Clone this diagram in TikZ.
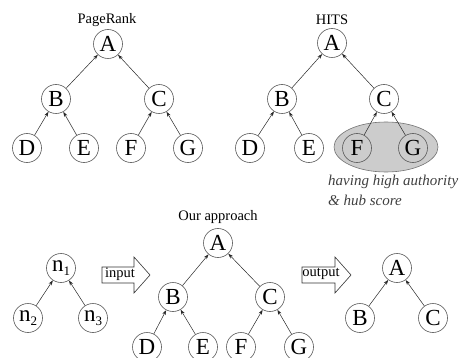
\documentclass[tikz,border=0pt]{standalone}
\usepackage{fontspec}
\setmainfont{Liberation Serif}
\usetikzlibrary{arrows.meta,shapes.geometric}
\begin{document}
\begin{tikzpicture}[x=1pt,y=-1pt,
  vtx/.style={circle,draw=black!65,line width=0.6pt,minimum size=29pt,inner sep=0pt,font=\fontsize{23}{23}\selectfont},
  lbl/.style={font=\fontsize{14.5}{14.5}\selectfont,inner sep=0pt},
  edge/.style={draw=black!85,line width=0.5pt,-{Stealth[length=5pt,width=3.5pt]}},
  bigarrow/.style={draw=black!80,line width=0.6pt,fill=white}
]
\useasboundingbox (0,0) rectangle (460,358);

% ---------- PageRank ----------
\node[lbl] (prl) at (107,20) {PageRank};
\node[vtx] (pA) at (108,44) {A};
\node[vtx] (pB) at (56,99) {B};
\node[vtx] (pC) at (159,99) {C};
\node[vtx] (pD) at (27,148) {D};
\node[vtx] (pE) at (84,148) {E};
\node[vtx] (pF) at (131,148) {F};
\node[vtx] (pG) at (188,148) {G};
\draw[edge] (pB) -- (pA);
\draw[edge] (pC) -- (pA);
\draw[edge] (pD) -- (pB);
\draw[edge] (pE) -- (pB);
\draw[edge] (pF) -- (pC);
\draw[edge] (pG) -- (pC);

% ---------- HITS ----------
\node[ellipse,draw=black!55,fill=black!20,line width=0.6pt,minimum width=104pt,minimum height=50pt,inner sep=0pt] (hell) at (386,147) {};
\node[lbl] (hl) at (332,20) {HITS};
\node[vtx] (hA) at (332,43) {A};
\node[vtx] (hB) at (282,99) {B};
\node[vtx] (hC) at (384,99) {C};
\node[vtx] (hD) at (250,148) {D};
\node[vtx] (hE) at (309,148) {E};
\node[vtx] (hF) at (357,148) {F};
\node[vtx] (hG) at (413,148) {G};
\draw[edge] (hB) -- (hA);
\draw[edge] (hC) -- (hA);
\draw[edge] (hD) -- (hB);
\draw[edge] (hE) -- (hB);
\draw[edge] (hF) -- (hC);
\draw[edge] (hG) -- (hC);
\node[lbl,anchor=west,font=\fontsize{15}{15}\selectfont\itshape,text=black!75] (t1) at (328,182) {having high authority};
\node[lbl,anchor=west,font=\fontsize{15}{15}\selectfont\itshape,text=black!75] (t2) at (328,200) {\& hub score};

% ---------- pattern ----------
\node[vtx] (n1) at (61,268) {n\raisebox{-0.35ex}{\fontsize{13}{13}\selectfont 1}};
\node[vtx] (n2) at (28,318) {n\raisebox{-0.35ex}{\fontsize{13}{13}\selectfont 2}};
\node[vtx] (n3) at (93,318) {n\raisebox{-0.35ex}{\fontsize{13}{13}\selectfont 3}};
\draw[edge] (n2) -- (n1);
\draw[edge] (n3) -- (n1);

% input arrow
\coordinate (ia) at (102,275);
\draw[bigarrow] (ia) ++(0,-8) -- ++(32,0) -- ++(0,-10) -- ++(16,18) -- ++(-16,18) -- ++(0,-10) -- ++(-32,0) -- cycle;
\node[lbl] (it) at (120,274) {input};

% ---------- Our approach ----------
\node[lbl] (ol) at (218,217) {Our approach};
\node[vtx] (oA) at (218,243) {A};
\node[vtx] (oB) at (173,297) {B};
\node[vtx] (oC) at (270,297) {C};
\node[vtx] (oD) at (147,347) {D};
\node[vtx] (oE) at (203,347) {E};
\node[vtx] (oF) at (241,347) {F};
\node[vtx] (oG) at (299,347) {G};
\draw[edge] (oB) -- (oA);
\draw[edge] (oC) -- (oA);
\draw[edge] (oD) -- (oB);
\draw[edge] (oE) -- (oB);
\draw[edge] (oF) -- (oC);
\draw[edge] (oG) -- (oC);

% output arrow
\coordinate (oa) at (302,275);
\draw[bigarrow] (oa) ++(0,-8) -- ++(33,0) -- ++(0,-10) -- ++(16,18) -- ++(-16,18) -- ++(0,-10) -- ++(-33,0) -- cycle;
\node[lbl] (ot) at (321,274) {output};

% ---------- result ----------
\node[vtx] (rA) at (397,268) {A};
\node[vtx] (rB) at (360,318) {B};
\node[vtx] (rC) at (433,318) {C};
\draw[edge] (rB) -- (rA);
\draw[edge] (rC) -- (rA);
\end{tikzpicture}
\end{document}
